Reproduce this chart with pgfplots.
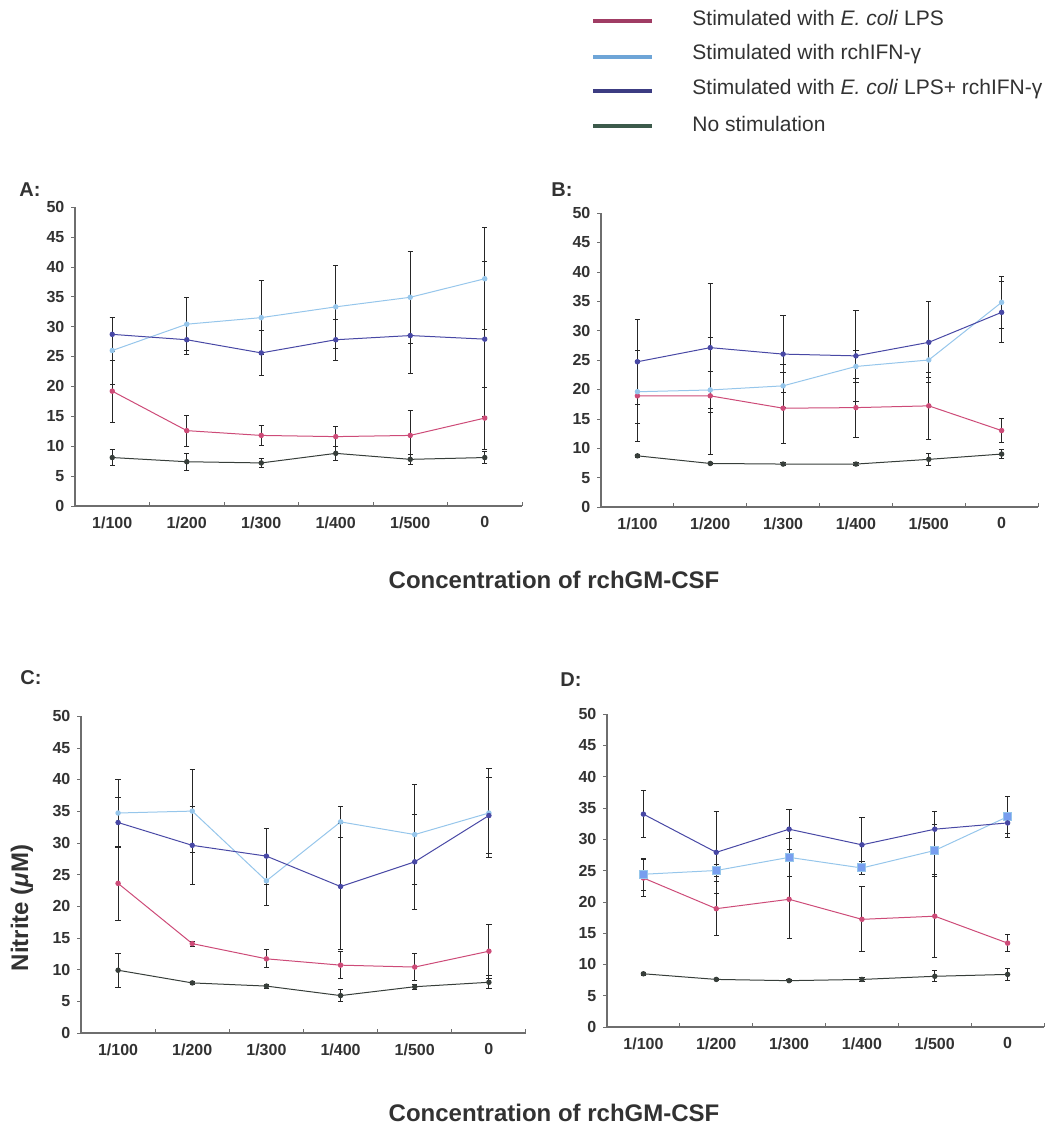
\documentclass[border=0pt]{standalone}
\usepackage{fontspec}
\setmainfont{Liberation Sans}
\usepackage{pgfplots}
\usepackage{pgfplotstable}
\pgfplotsset{compat=1.18}

\definecolor{lpsc}{RGB}{205,75,120}
\definecolor{ifnc}{RGB}{150,198,235}
\definecolor{bothc}{RGB}{72,72,165}
\definecolor{nonec}{RGB}{55,62,58}
\definecolor{lpsleg}{RGB}{160,60,100}
\definecolor{ifnleg}{RGB}{110,165,215}
\definecolor{bothleg}{RGB}{60,60,130}
\definecolor{noneleg}{RGB}{60,90,75}
\definecolor{axgray}{RGB}{110,110,110}
\definecolor{labgray}{RGB}{50,50,50}

\pgfplotstableread{
x lps lpse ifn ifne both bothe none nonee
0 19.2 5.2 26.0 5.6 28.7 2.9 8.1 1.3
1 12.6 2.6 30.4 4.4 27.8 2.5 7.4 1.4
2 11.8 1.6 31.5 6.2 25.6 3.8 7.2 0.8
3 11.6 1.7 33.3 7.0 27.8 3.4 8.8 1.2
4 11.8 4.1 34.9 7.7 28.5 6.4 7.8 0.8
5 14.7 5.2 38.0 8.5 27.9 13.0 8.1 1.0
}\tabA
\pgfplotstableread{
x lps lpse ifn ifne both bothe none nonee
0 18.9 7.7 19.6 5.4 24.7 7.2 8.7 0.3
1 18.9 9.9 19.9 3.1 27.1 11.0 7.4 0.2
2 16.8 6.0 20.6 3.7 26.0 6.6 7.3 0.2
3 16.9 5.0 23.9 2.8 25.7 7.7 7.3 0.2
4 17.2 5.7 25.0 3.0 28.0 6.9 8.1 1.0
5 13.0 2.1 34.8 4.4 33.1 5.2 9.0 0.8
}\tabB
\pgfplotstableread{
x lps lpse ifn ifne both bothe none nonee
0 23.6 5.9 34.7 5.3 33.2 4.0 9.9 2.7
1 14.1 0.4 35.0 6.5 29.6 6.2 7.9 0.2
2 11.7 1.4 24.0 3.9 27.9 4.4 7.4 0.3
3 10.7 2.1 33.3 2.5 23.1 10.0 5.9 1.0
4 10.4 2.1 31.3 7.9 27.0 7.5 7.3 0.4
5 12.9 4.3 34.7 7.0 34.3 6.0 8.0 1.0
}\tabC
\pgfplotstableread{
x lps lpse ifn ifne both bothe none nonee
0 23.8 2.9 24.4 2.6 34.0 3.8 8.5 0.2
1 18.9 4.3 25.0 1.0 27.9 6.5 7.6 0.2
2 20.4 6.2 27.1 3.0 31.6 3.2 7.4 0.2
3 17.2 5.2 25.4 1.0 29.1 4.3 7.6 0.3
4 17.7 6.6 28.2 4.1 31.6 2.8 8.1 0.9
5 13.4 1.4 33.6 3.3 32.6 1.7 8.4 1.0
}\tabD

\pgfplotsset{
  panel/.style={
    scale only axis, anchor=south west,
    axis x line*=bottom, axis y line*=left,
    axis line style={-, draw=axgray, line width=0.6pt},
    xmin=-0.5, xmax=5.5, ymin=0, ymax=50,
    ytick={0,5,...,50},
    xtick={0,...,5},
    xticklabels={1/100,1/200,1/300,1/400,1/500,0},
    minor xtick={0.5,1.5,2.5,3.5,4.5,5.5},
    tick align=outside,
    major tick length=1.8pt, minor tick length=2pt,
    major x tick style={draw=none},
    minor x tick style={draw=axgray, line width=0.5pt, yshift=2pt},
    y tick style={draw=axgray},
    ticklabel style={font=\bfseries\fontsize{8}{9}\selectfont, text=labgray},
    /pgf/number format/assume math mode=true,
    clip=false,
  },
  ser/.style={line width=0.5pt, mark=*, mark size=1.1pt,
    error bars/y dir=both, error bars/y explicit,
    error bars/error bar style={black!85, line width=0.45pt},
    error bars/error mark options={rotate=90, black!85, mark size=1.3pt, line width=0.45pt}},
}

\newcommand{\fourplots}[2]{%
  \addplot[ser, nonec] table[x=x, y=none, y error=nonee] {#1};
  \addplot[ser, lpsc] table[x=x, y=lps, y error=lpse] {#1};
  \addplot[ser, ifnc, #2] table[x=x, y=ifn, y error=ifne] {#1};
  \addplot[ser, bothc] table[x=x, y=both, y error=bothe] {#1};
}

\begin{document}
\begin{tikzpicture}
\useasboundingbox (0pt,0pt) rectangle (531.5pt,563.5pt);

% legend
\foreach \yy/\cc in {553/lpsleg, 535/ifnleg, 518/bothleg, 500.5/noneleg}
  \draw[\cc, line width=1.8pt] (296.5pt,\yy pt) -- (326pt,\yy pt);
\begin{scope}[every node/.style={anchor=west, inner sep=0pt, font=\fontsize{10.5}{12}\selectfont, text=labgray}]
\node at (346pt,554.5pt) {Stimulated with \textit{E. coli} LPS};
\node at (346pt,536.5pt) {Stimulated with rchIFN-γ};
\node at (346pt,519pt) {Stimulated with \textit{E. coli} LPS+ rchIFN-γ};
\node at (346pt,501.5pt) {No stimulation};
\end{scope}

% panel letters
\begin{scope}[every node/.style={inner sep=0pt, font=\bfseries\fontsize{10}{12}\selectfont, text=labgray}]
\node at (15pt,468.5pt) {A:};
\node at (281pt,468.5pt) {B:};
\node at (15.5pt,224.5pt) {C:};
\node at (285.5pt,223.5pt) {D:};
\end{scope}

% axis titles
\node[font=\bfseries\fontsize{12}{14}\selectfont, text=labgray, inner sep=0pt] at (277pt,273.5pt) {Concentration of rchGM-CSF};
\node[font=\bfseries\fontsize{12}{14}\selectfont, text=labgray, inner sep=0pt] at (277pt,7pt) {Concentration of rchGM-CSF};
\node[font=\bfseries\fontsize{12}{14}\selectfont, text=labgray, inner sep=0pt, rotate=90] at (11pt,109.5pt) {Nitrite (\textit{μ}M)};

\begin{axis}[panel, at={(37.5pt,310.5pt)}, width=223.5pt, height=149.5pt]
\fourplots{\tabA}{}
\end{axis}
\begin{axis}[panel, at={(300.5pt,310pt)}, width=218.5pt, height=147pt]
\fourplots{\tabB}{}
\end{axis}
\begin{axis}[panel, at={(40.5pt,47pt)}, width=222.5pt, height=158.5pt]
\fourplots{\tabC}{}
\end{axis}
\begin{axis}[panel, at={(303.5pt,50pt)}, width=218.5pt, height=156.5pt]
\fourplots{\tabD}{mark=square*, mark size=2pt, mark options={fill=ifnc!80!blue}}
\end{axis}
\end{tikzpicture}
\end{document}
